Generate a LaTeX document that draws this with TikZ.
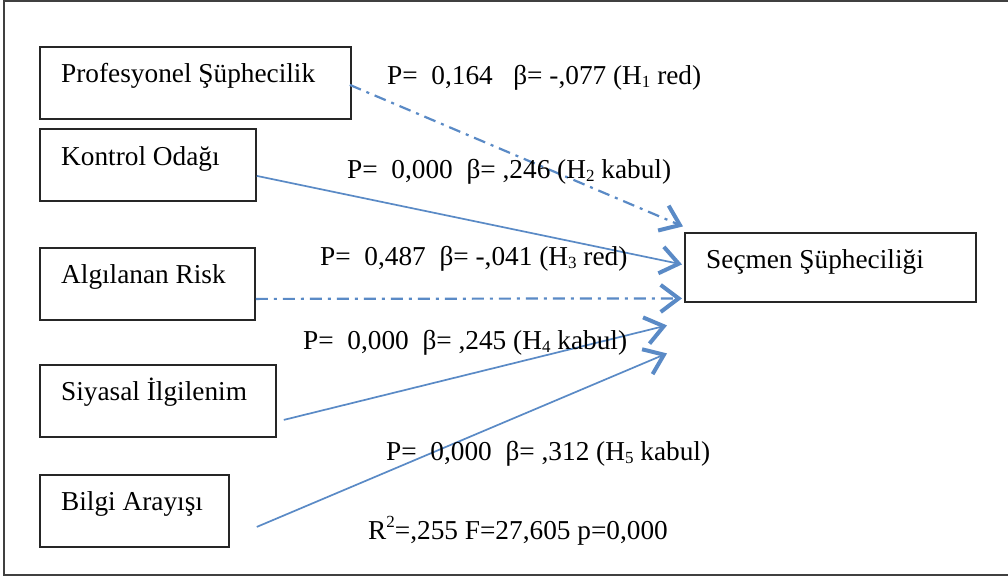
\documentclass[tikz,border=0pt]{standalone}
\usepackage{fontspec}
\setmainfont{Liberation Serif}
\usetikzlibrary{arrows.meta,calc}
\definecolor{lnblue}{HTML}{5A8AC6}
\begin{document}
\begin{tikzpicture}[x=1pt,y=-1pt,
  box/.style={draw=black!85,line width=1.8pt,anchor=north west,inner sep=0pt},
  lbl/.style={anchor=base west,inner sep=0pt,font=\fontsize{27.3}{30}\selectfont},
  conn/.style={draw=lnblue,line width=1.7pt,-{Straight Barb[length=18pt,width=27pt,line width=4pt]}},
  dashdot/.style={conn,line width=2.2pt,dash pattern=on 12pt off 6pt on 3pt off 6pt}]
\useasboundingbox (0,0) rectangle (1008,578);
\fill[white] (0,0) rectangle (1008,578);
\draw[black!75,line width=1.6pt] (1010,1) -- (4,1) -- (4,575) -- (1010,575);
% boxes
\node[box,minimum width=311pt,minimum height=72pt] (prof) at (39,46) {};
\node[box,minimum width=216pt,minimum height=72pt] (kont) at (39,128) {};
\node[box,minimum width=215pt,minimum height=72pt] (risk) at (39,247) {};
\node[box,minimum width=236pt,minimum height=72pt] (siya) at (39,364) {};
\node[box,minimum width=189pt,minimum height=72pt] (bilg) at (39,474) {};
\node[box,minimum width=291pt,minimum height=69pt] (secm) at (684,232) {};
% box texts
\node[lbl] (tprof) at ($(prof.north west)+(22,36)$) {Profesyonel Şüphecilik};
\node[lbl] (tkont) at ($(kont.north west)+(22,37)$) {Kontrol Odağı};
\node[lbl] (trisk) at ($(risk.north west)+(22,36)$) {Algılanan Risk};
\node[lbl] (tsiya) at ($(siya.north west)+(22,36)$) {Siyasal İlgilenim};
\node[lbl] (tbilg) at ($(bilg.north west)+(22,36)$) {Bilgi Arayışı};
\node[lbl] (tsecm) at ($(secm.north west)+(22,36)$) {Seçmen Şüpheciliği};
% connector end points
\coordinate (s1) at ($(prof.east)+(-2,2)$);
\coordinate (s2) at ($(kont.east)+(0,11)$);
\coordinate (s3) at ($(risk.east)+(0,15)$);
\coordinate (s4) at ($(siya.east)+(7,19)$);
\coordinate (s5) at ($(bilg.east)+(27,16)$);
\coordinate (e1) at ($(secm.west)+(-1,-41)$);
\coordinate (e2) at ($(secm.west)+(-2,-3)$);
\coordinate (e3) at ($(secm.west)+(-2,31)$);
\coordinate (e4) at ($(secm.west)+(-17,58)$);
\coordinate (e5) at ($(secm.west)+(-17,86)$);
\draw[dashdot] (s1) -- (e1);
\draw[conn] (s2) -- (e2);
\draw[dashdot] (s3) -- (e3);
\draw[conn] (s4) -- (e4);
\draw[conn] (s5) -- (e5);
% labels
\newcommand{\hsub}[1]{\raisebox{-0.14em}{\fontsize{17}{18}\selectfont #1}}
\newcommand{\hsup}[1]{\raisebox{0.42em}{\fontsize{17}{18}\selectfont #1}}
\node[lbl] (l1) at (387,84) {P=~~0,164~~~β=~-,077 (H\hsub{1} red)};
\node[lbl] (l2) at (347,178) {P=~~0,000~~β=~,246 (H\hsub{2} kabul)};
\node[lbl] (l3) at (320,265) {P=~~0,487~~β=~-,041 (H\hsub{3} red)};
\node[lbl] (l4) at (303,349) {P=~~0,000~~β=~,245 (H\hsub{4} kabul)};
\node[lbl] (l5) at (386,460) {P=~~0,000~~β=~,312 (H\hsub{5} kabul)};
\node[lbl] (l6) at (368,539) {R\hsup{2}=,255 F=27,605 p=0,000};
\end{tikzpicture}
\end{document}
